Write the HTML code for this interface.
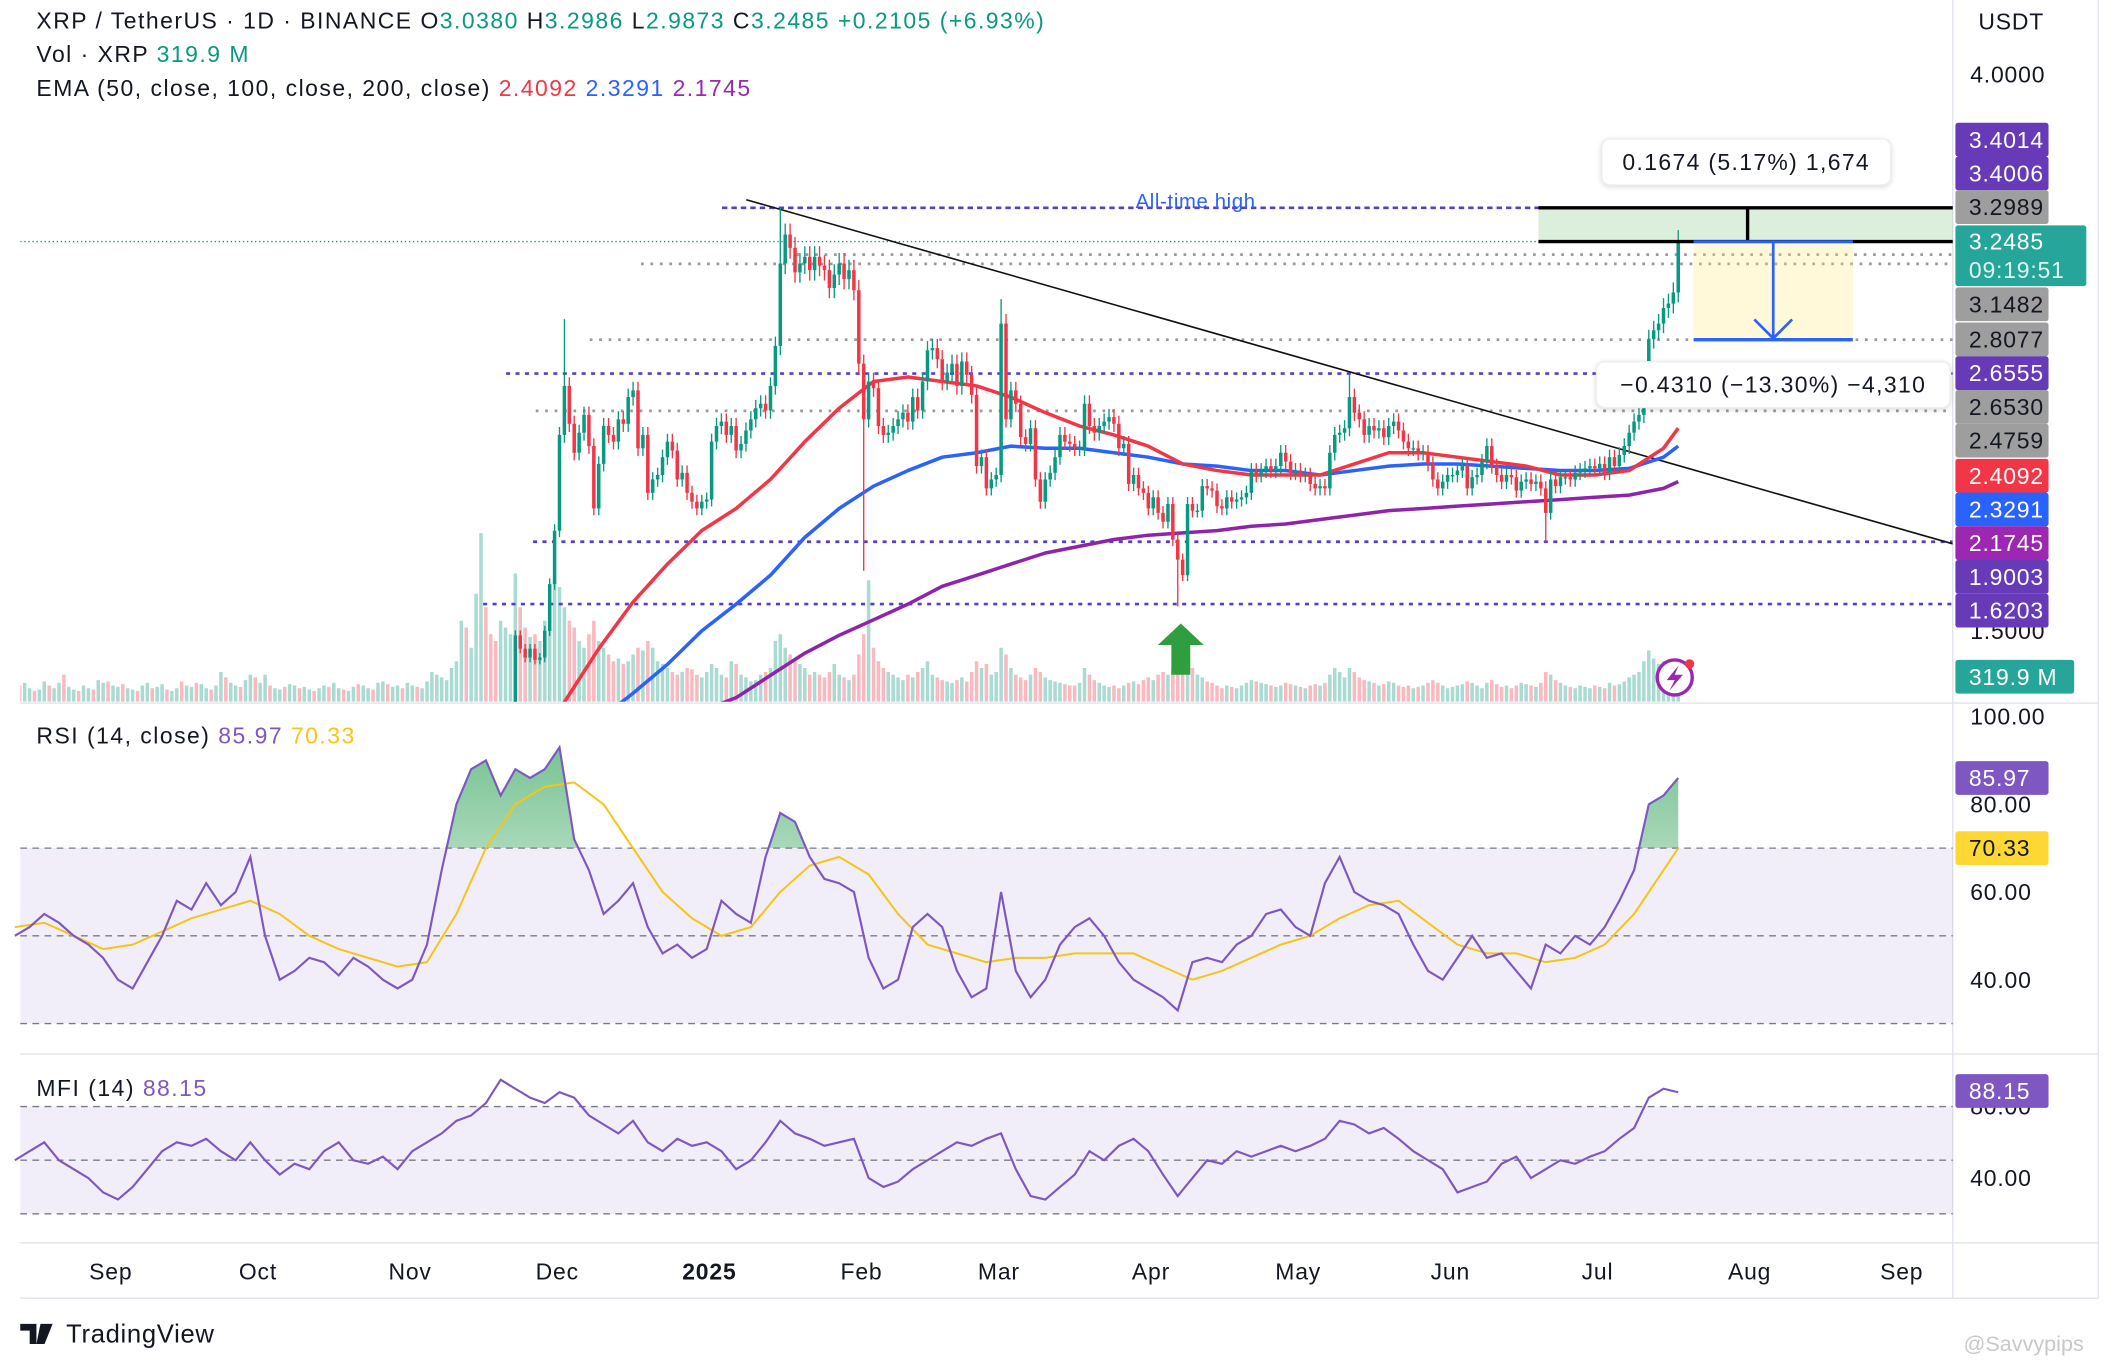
<!DOCTYPE html>
<html><head><meta charset="utf-8"><style>
html,body{margin:0;padding:0;background:#fff;}
svg{display:block;font-family:"Liberation Sans",sans-serif;}
</style></head><body>
<svg id="c" width="2116" height="1367" viewBox="0 0 1568 1013" preserveAspectRatio="none">
<defs>
<clipPath id="pc"><rect x="15" y="0" width="1432" height="520"/></clipPath>
<clipPath id="ob"><rect x="15" y="522" width="1432" height="106.5"/></clipPath>
<linearGradient id="gg" x1="0" y1="0" x2="0" y2="1"><stop offset="0" stop-color="#1e9b4a" stop-opacity="0.6"/><stop offset="1" stop-color="#1e9b4a" stop-opacity="0.05"/></linearGradient>
</defs>
<rect x="0" y="0" width="1568" height="1013" fill="#fff"/>
<g id="grid">
<line x1="15" y1="521" x2="1555" y2="521" stroke="#e0e3eb"/>
<line x1="15" y1="781" x2="1555" y2="781" stroke="#e0e3eb"/>
<line x1="15" y1="921" x2="1555" y2="921" stroke="#e0e3eb"/>
<line x1="15" y1="962" x2="1555" y2="962" stroke="#e0e3eb"/>
<line x1="1447" y1="0" x2="1447" y2="962" stroke="#e0e3eb"/>
<line x1="1555" y1="0" x2="1555" y2="962" stroke="#e0e3eb"/>
</g>
<g id="vol" clip-path="url(#pc)"></g>
<g id="ann1" clip-path="url(#pc)"></g>
<g id="ema" clip-path="url(#pc)"></g>
<g id="cdl" clip-path="url(#pc)"></g>
<g id="ann2"></g>
<g id="rsi"></g>
<g id="mfi"></g>
<g id="axis" letter-spacing="0.6"></g>
<g font-size="17" letter-spacing="1.1">
<text x="27" y="21" fill="#131722">XRP / TetherUS · 1D · BINANCE <tspan>O</tspan><tspan fill="#089981">3.0380</tspan> <tspan>H</tspan><tspan fill="#089981">3.2986</tspan> <tspan>L</tspan><tspan fill="#089981">2.9873</tspan> <tspan>C</tspan><tspan fill="#089981">3.2485 +0.2105 (+6.93%)</tspan></text>
<text x="27" y="46" fill="#131722">Vol · XRP <tspan fill="#089981">319.9 M</tspan></text>
<text x="27" y="71" fill="#131722">EMA (50, close, 100, close, 200, close) <tspan fill="#f23645">2.4092</tspan> <tspan fill="#2962ff">2.3291</tspan> <tspan fill="#9c27b0">2.1745</tspan></text>
<text x="27" y="551" fill="#131722">RSI (14, close) <tspan fill="#7e57c2">85.97</tspan> <tspan fill="#f5c518">70.33</tspan></text>
<text x="27" y="812" fill="#131722">MFI (14) <tspan fill="#7e57c2">88.15</tspan></text>
</g>
<g>
<path d="M15 981h12v15h-5v-10h-7z M30 981h9l-6 15h-6z" fill="#131722"/>
<circle cx="32" cy="984" r="2.5" fill="#131722"/>
<text x="49" y="995" font-size="19" fill="#131722" letter-spacing="0.5">TradingView</text>
<text x="1455" y="1001" font-size="16" fill="#c8c8c8">@Savvypips</text>
</g>
</svg>
<script>
// ---------- DATA ----------
const closesNov = [0.51,0.52,0.51,0.51,0.53,0.55,0.55,0.56,0.58,0.61,0.62,0.75,0.71,0.72,1.0,1.15,1.13,1.12,1.07,1.1,1.14,1.16,1.48,1.42,1.38,1.42,1.37,1.38,1.5,1.71];
const closesDec = [1.95,2.38,2.6,2.43,2.3,2.39,2.47,2.33,2.05,2.25,2.42,2.38,2.35,2.45,2.43,2.55,2.58,2.32,2.38,2.12,2.18,2.2,2.28,2.35,2.31,2.18,2.21,2.12,2.08,2.05,2.08];
const closesJan = [2.09,2.35,2.42,2.44,2.38,2.42,2.31,2.34,2.4,2.45,2.5,2.52,2.49,2.6,2.78,3.15,3.28,3.22,3.11,3.15,3.18,3.12,3.18,3.14,3.12,3.04,3.1,3.15,3.08,3.12,3.03];
const closesFeb = [2.70,2.45,2.62,2.59,2.42,2.38,2.39,2.42,2.45,2.48,2.44,2.55,2.49,2.62,2.76,2.77,2.72,2.62,2.66,2.7,2.6,2.71,2.65,2.56,2.24,2.28,2.14,2.18];
const closesMar = [2.2,2.88,2.45,2.58,2.52,2.37,2.34,2.41,2.18,2.08,2.18,2.21,2.28,2.38,2.35,2.34,2.32,2.32,2.52,2.42,2.39,2.42,2.44,2.46,2.43,2.32,2.34,2.16,2.2,2.14,2.12];
const closesApr = [2.05,2.1,2.03,1.99,2.07,1.91,1.82,1.75,2.07,2.04,2.04,2.15,2.14,2.13,2.06,2.05,2.1,2.08,2.09,2.1,2.12,2.22,2.2,2.22,2.24,2.22,2.24,2.3,2.26,2.21];
const closesMay = [2.22,2.2,2.2,2.16,2.14,2.15,2.14,2.3,2.38,2.39,2.41,2.55,2.48,2.45,2.38,2.42,2.4,2.41,2.37,2.42,2.44,2.4,2.35,2.32,2.32,2.3,2.3,2.25,2.18,2.14,2.17];
const closesJun = [2.2,2.2,2.22,2.24,2.14,2.19,2.2,2.26,2.33,2.24,2.2,2.17,2.2,2.19,2.13,2.17,2.18,2.16,2.17,2.14,2.03,2.18,2.15,2.19,2.19,2.18,2.21,2.22,2.23,2.24];
const closesJul = [2.23,2.25,2.21,2.28,2.24,2.29,2.33,2.39,2.44,2.47,2.58,2.81,2.85,2.88,2.95,2.97,3.02,3.25];
const closeStartDay = 80; // Nov 1 2024 (day 0 = Aug 13 2024)
const wickDays  = [112,   156,  173,  201,  237,  272,  312,  339];
const wickVals  = [2.90,  3.40, 1.77, 2.99, 1.61, 2.65, 1.90, 3.30];
const volumes = [18,12,14,10,8,9,15,12,10,14,20,11,9,8,12,10,9,16,14,
15,12,11,13,10,9,8,12,14,10,11,13,9,8,10,15,12,11,14,13,10,9,12,22,18,14,12,11,16,20,
18,14,20,12,10,9,11,13,12,10,11,9,8,10,12,11,14,10,9,8,11,13,12,10,9,14,15,13,11,12,10,
14,12,11,10,15,22,20,18,16,25,30,60,55,40,80,125,70,50,45,60,55,50,95,70,55,48,50,45,60,75,
90,85,70,60,55,45,40,50,60,45,40,35,30,32,28,30,35,40,38,45,40,30,28,25,22,20,22,25,24,20,18,
22,28,25,20,18,30,28,20,18,15,16,20,22,25,45,50,40,35,30,28,25,20,22,20,18,22,28,20,18,16,20,
35,50,90,40,30,25,22,20,18,16,20,18,22,25,30,20,18,16,15,14,16,18,15,22,30,25,28,20,
22,40,35,25,20,18,16,20,25,22,18,16,15,14,13,12,12,14,25,20,16,14,12,11,12,10,12,14,15,13,16,
18,16,20,22,20,25,45,50,35,25,20,18,15,14,12,10,12,11,10,12,14,16,15,14,13,12,11,12,14,13,
12,11,10,12,13,12,14,20,25,22,18,25,22,18,16,15,14,12,13,15,14,12,11,12,10,11,12,14,16,14,12,
10,11,12,13,15,14,12,10,14,16,13,11,12,10,12,14,13,12,11,14,22,20,16,14,12,11,10,12,11,10,
12,11,10,14,12,13,15,18,20,22,30,38,32,28,30,26,28,32];
const emaStartDay = 105, emaStep = 7;
const ema50  = [0.98,1.18,1.42,1.63,1.8,1.95,2.05,2.18,2.35,2.5,2.62,2.64,2.62,2.6,2.55,2.48,2.42,2.38,2.33,2.25,2.22,2.2,2.2,2.2,2.25,2.3,2.3,2.28,2.26,2.24,2.2,2.2,2.22,2.32,2.41];
const ema100 = [0.95,1.02,1.1,1.22,1.35,1.5,1.62,1.75,1.92,2.05,2.15,2.22,2.28,2.3,2.33,2.32,2.32,2.3,2.28,2.25,2.24,2.22,2.22,2.2,2.22,2.24,2.25,2.25,2.24,2.23,2.22,2.22,2.23,2.28,2.33];
const ema200 = [0.8,0.88,0.95,1.02,1.08,1.14,1.2,1.3,1.4,1.48,1.55,1.62,1.7,1.75,1.8,1.85,1.88,1.91,1.93,1.94,1.95,1.97,1.98,2.0,2.02,2.04,2.05,2.06,2.07,2.08,2.09,2.1,2.11,2.14,2.17];
const rsiStep = 3;
const rsiVals = [50,52,55,53,50,48,45,40,38,44,50,58,56,62,57,60,68,50,40,42,45,44,41,45,43,40,38,40,48,65,80,88,90,82,88,86,88,93,72,65,55,58,62,52,46,48,45,47,58,55,53,68,78,76,68,63,62,60,45,38,40,52,55,52,42,36,38,60,42,36,40,48,52,54,50,44,40,38,36,33,44,45,44,48,50,55,56,52,50,62,68,60,58,57,55,48,42,40,45,50,45,46,42,38,48,46,50,48,52,58,65,80,82,86];
const rsiMaStep = 6;
const rsiMa = [52,53,50,47,48,51,54,56,58,55,50,47,45,43,44,55,70,80,84,85,80,70,60,54,50,52,60,66,68,64,55,48,46,44,45,45,46,46,46,43,40,42,45,48,50,54,57,58,53,48,46,46,44,45,48,55,65,70];
const mfiVals = [50,55,60,50,45,40,32,28,35,45,55,60,58,62,55,50,60,50,42,48,45,55,60,50,48,52,45,55,60,65,72,75,82,95,90,85,82,88,85,75,70,65,72,60,55,62,58,60,55,45,50,60,72,65,62,58,60,62,40,35,38,45,50,55,60,58,62,65,45,30,28,35,42,55,50,58,62,55,42,30,40,50,48,55,52,55,58,55,58,62,72,70,65,68,62,55,50,45,32,35,38,48,52,40,45,50,48,52,55,62,68,85,90,88];
const monthLabels = ["Sep","Oct","Nov","Dec","2025","Feb","Mar","Apr","May","Jun","Jul","Aug","Sep"];
const monthDays = [19,49,80,110,141,172,200,231,261,292,322,353,384];
const priceTicks = [4.0,1.5];
const rsiTicks = [100,80,60,40];
const mfiTicks = [80,40];

// ---------- SCALES ----------
const NS="http://www.w3.org/2000/svg";
const xD = d => 11 + d*3.636;
const yP = p => 55 + (4-p)*165;
const yR = v => 531 + (100-v)*3.25;
const yM = v => 820 + (80-v)*1.325;
function mk(tag, attrs, parent){const e=document.createElementNS(NS,tag);for(const k in attrs)e.setAttribute(k,attrs[k]);parent.appendChild(e);return e;}
const G = id => document.getElementById(id);

// ---------- VOLUME ----------
const closes = [].concat(closesNov,closesDec,closesJan,closesFeb,closesMar,closesApr,closesMay,closesJun,closesJul);
volumes.forEach((v,i)=>{
  const ci=i-closeStartDay; let up=(i%3)!==1;
  if(ci>0&&ci<closes.length) up=closes[ci]>=closes[ci-1];
  const r=mk('rect',{x:xD(i)-1.3,y:520-v,width:2.6,height:v,fill:up?'rgba(8,153,129,0.35)':'rgba(242,54,69,0.35)'},G('vol'));
  
  
});

// ---------- ANNOTATION LINES ----------
function hline(x1,x2,y,color,dash,w,parent,name){const l=mk('line',{x1,x2,y1:y,y2:y,stroke:color,'stroke-dasharray':dash,'stroke-width':w},parent);return l;}
hline(15,1447,yP(3.2485),'#089981','1 2',1,G('ann1'),'last-price-line');
hline(535,1447,yP(3.40),'#5b3cc4','4 3',2,G('ann1'),'ath-line');
hline(375,1447,yP(2.6555),'#5b3cc4','3 4',2,G('ann1'),'support-line-2655');
hline(395,1447,yP(1.9003),'#5b3cc4','3 4',2,G('ann1'),'support-line-1900');
hline(358,1447,yP(1.6203),'#5b3cc4','3 4',2,G('ann1'),'support-line-1620');
hline(590,1447,yP(3.2989)+18,'#999','2 5',2,G('ann1'),'level-line-a');
hline(475,1447,yP(3.1482),'#999','2 5',2,G('ann1'),'level-line-3148');
hline(437,1447,yP(2.8077),'#999','2 5',2,G('ann1'),'level-line-2807');
hline(397,1447,yP(2.4759)-2,'#999','2 5',2,G('ann1'),'level-line-2476');
let tl=mk('line',{x1:553,y1:148,x2:1447,y2:403,stroke:'#111','stroke-width':1.2},G('ann1'));


let at=mk('text',{x:886,y:154,'font-size':15,fill:'#2962ff','text-anchor':'middle','letter-spacing':0.5},G('ann1'));at.textContent='All-time high';



// ---------- EMAs ----------
function emaLine(arr,color,name){
  const pts=arr.map((p,i)=>{const d=Math.min(emaStartDay+i*emaStep,339);return xD(d).toFixed(1)+','+yP(p).toFixed(1);}).join(' ');
  const l=mk('polyline',{points:pts,fill:'none',stroke:color,'stroke-width':2.6,'stroke-linejoin':'round'},G('ema'));
  
  
}
emaLine(ema200,'#8e24aa','ema-200-line');
emaLine(ema100,'#2962ff','ema-100-line');
emaLine(ema50,'#f23645','ema-50-line');

// ---------- CANDLES ----------
closes.forEach((c,i)=>{
  const d=closeStartDay+i; const o=i>0?closes[i-1]:c*0.98;
  let hi=Math.max(o,c)*1.015, lo=Math.min(o,c)*0.985;
  const wi=wickDays.indexOf(d); if(wi>=0){ if(wickVals[wi]>Math.max(o,c)) hi=wickVals[wi]; else lo=wickVals[wi]; }
  const col=c>=o?'#089981':'#f23645';
  const g=mk('g',{},G('cdl'));
  
  
  mk('line',{x1:xD(d),x2:xD(d),y1:yP(hi),y2:yP(lo),stroke:col,'stroke-width':1},g);
  const t=yP(Math.max(o,c)),b=yP(Math.min(o,c));
  mk('rect',{x:xD(d)-1.3,y:t,width:2.6,height:Math.max(1,b-t),fill:col},g);
});

// ---------- MEASURE TOOLS ----------
const A=G('ann2');
let gb=mk('rect',{x:1140,y:yP(3.40),width:307,height:yP(3.2485)-yP(3.40),fill:'rgba(76,175,80,0.2)'},A);


mk('line',{x1:1140,x2:1447,y1:yP(3.40),y2:yP(3.40),stroke:'#000','stroke-width':2.5},A);
mk('line',{x1:1140,x2:1447,y1:yP(3.2485),y2:yP(3.2485),stroke:'#000','stroke-width':2.5},A);
mk('line',{x1:1295,x2:1295,y1:yP(3.40),y2:yP(3.2485),stroke:'#000','stroke-width':2.5},A);
let yb=mk('rect',{x:1255,y:yP(3.2485),width:118,height:yP(2.8077)-yP(3.2485),fill:'rgba(255,235,130,0.3)'},A);


mk('line',{x1:1255,x2:1373,y1:yP(3.2485),y2:yP(3.2485),stroke:'#2962ff','stroke-width':2},A);
mk('line',{x1:1255,x2:1373,y1:yP(2.8077),y2:yP(2.8077),stroke:'#2962ff','stroke-width':2.5},A);
mk('line',{x1:1314,x2:1314,y1:yP(3.2485),y2:yP(2.8077),stroke:'#2962ff','stroke-width':2},A);
mk('polyline',{points:`1300,${yP(2.8077)-15} 1314,${yP(2.8077)-1} 1328,${yP(2.8077)-15}`,fill:'none',stroke:'#2962ff','stroke-width':2},A);
function labelBox(x,y,w,h,txt,name){
  const g=mk('g',{},A);
  
  
  mk('rect',{x,y,width:w,height:h,rx:6,fill:'#fff',stroke:'#eee','stroke-width':1,style:'filter:drop-shadow(0 1px 2px rgba(0,0,0,0.15))'},g);
  const t=mk('text',{x:x+w/2,y:y+h/2+6,'font-size':17,fill:'#131722','text-anchor':'middle','letter-spacing':1},g);t.textContent=txt;
}
labelBox(1187,103,214,34,'0.1674 (5.17%) 1,674','measure-label-up');
labelBox(1183,268,262,34,'\u22120.4310 (\u221213.30%) \u22124,310','measure-label-down');
let ua=mk('path',{d:'M875 462 L892 478 L882 478 L882 500 L868 500 L868 478 L858 478 Z',fill:'#2e9e3e'},A);


let fl=mk('g',{},A);


mk('circle',{cx:1241,cy:502,r:13,fill:'#fff',stroke:'#9c27b0','stroke-width':2.5},fl);
mk('path',{d:'M1244 493 L1235 504 L1241 504 L1237 512 L1247 500 L1241 500 Z',fill:'#9c27b0'},fl);
mk('circle',{cx:1252,cy:492,r:3.5,fill:'#f23645'},fl);

// ---------- RSI ----------
const R=G('rsi');
mk('rect',{x:15,y:yR(70),width:1432,height:yR(30)-yR(70),fill:'rgba(126,87,194,0.1)'},R);
[70,50,30].forEach(v=>mk('line',{x1:15,x2:1447,y1:yR(v),y2:yR(v),stroke:'#787b86','stroke-dasharray':'5 4','stroke-width':1},R));
const rpts=rsiVals.map((v,i)=>[xD(i*rsiStep),yR(v)]);
let rarea=mk('polygon',{points:rpts.map(p=>p[0].toFixed(1)+','+p[1].toFixed(1)).join(' ')+` ${rpts[rpts.length-1][0]},${yR(70)} ${rpts[0][0]},${yR(70)}`,fill:'url(#gg)','clip-path':'url(#ob)'},R);


let rma=mk('polyline',{points:rsiMa.map((v,i)=>xD(Math.min(i*rsiMaStep,339)).toFixed(1)+','+yR(v).toFixed(1)).join(' '),fill:'none',stroke:'#f5c518','stroke-width':1.5},R);


let rl=mk('polyline',{points:rpts.map(p=>p[0].toFixed(1)+','+p[1].toFixed(1)).join(' '),fill:'none',stroke:'#7e57c2','stroke-width':1.6},R);



// ---------- MFI ----------
const M=G('mfi');
mk('rect',{x:15,y:yM(80),width:1432,height:yM(20)-yM(80),fill:'rgba(126,87,194,0.1)'},M);
[80,50,20].forEach(v=>mk('line',{x1:15,x2:1447,y1:yM(v),y2:yM(v),stroke:'#787b86','stroke-dasharray':'5 4','stroke-width':1},M));
let ml=mk('polyline',{points:mfiVals.map((v,i)=>xD(i*rsiStep).toFixed(1)+','+yM(v).toFixed(1)).join(' '),fill:'none',stroke:'#7e57c2','stroke-width':1.6},M);



// ---------- AXES ----------
const X=G('axis');
function txt(x,y,s,size,fill,anchor,name,weight){const t=mk('text',{x,y,'font-size':size,fill,'text-anchor':anchor||'start','font-weight':weight||'normal'},X);t.textContent=s;return t;}
monthLabels.forEach((m,i)=>txt(xD(monthDays[i])+2,948,m,17,'#131722','middle','x-tick-label',m==='2025'?'bold':'normal'));
txt(1466,22,'USDT',17,'#131722','start','currency-label');
priceTicks.forEach(p=>txt(1460,yP(p)+6,p.toFixed(4),17,'#131722','start','price-tick'));
rsiTicks.forEach(v=>txt(1460,yR(v)+6,v.toFixed(2),17,'#131722','start','rsi-tick'));
mfiTicks.forEach(v=>txt(1460,yM(v)+6,v.toFixed(2),17,'#131722','start','mfi-tick'));
function tag(y,h,s,bg,fg,name,w,ty){
  const g=mk('g',{},X);
  
  
  mk('rect',{x:1449,y:y,width:w||69,height:h,rx:2,fill:bg},g);
  const t=mk('text',{x:1459,y:ty||(y+h/2+6),'font-size':17,fill:fg},g);t.textContent=s;
  return g;
}
tag(91,25,'3.4014','#673ab7','#fff','tag-3.4014');
tag(116,25,'3.4006','#673ab7','#fff','tag-3.4006');
tag(141,25,'3.2989','#9e9e9e','#131722','tag-3.2989');
const lp=tag(167,45,'3.2485','#26a69a','#fff','tag-last-price',97,185);
const cd=mk('text',{x:1459,y:206,'font-size':17,fill:'#dff5f1'},lp);cd.textContent='09:19:51';
tag(213,25,'3.1482','#9e9e9e','#131722','tag-3.1482');
tag(239,25,'2.8077','#9e9e9e','#131722','tag-2.8077');
tag(264,25,'2.6555','#673ab7','#fff','tag-2.6555');
tag(289,25,'2.6530','#9e9e9e','#131722','tag-2.6530');
tag(314,25,'2.4759','#9e9e9e','#131722','tag-2.4759');
tag(340,25,'2.4092','#f23645','#fff','tag-ema50');
tag(365,25,'2.3291','#2962ff','#fff','tag-ema100');
tag(390,25,'2.1745','#9c27b0','#fff','tag-ema200');
tag(415,25,'1.9003','#673ab7','#fff','tag-1.9003');
tag(440,25,'1.6203','#673ab7','#fff','tag-1.6203');
tag(489,25,'319.9 M','#26a69a','#fff','tag-volume',88);
tag(564,25,'85.97','#7e57c2','#fff','tag-rsi');
tag(616,25,'70.33','#fdd835','#131722','tag-rsi-ma');
tag(796,25,'88.15','#7e57c2','#fff','tag-mfi');
</script>
</body></html>
